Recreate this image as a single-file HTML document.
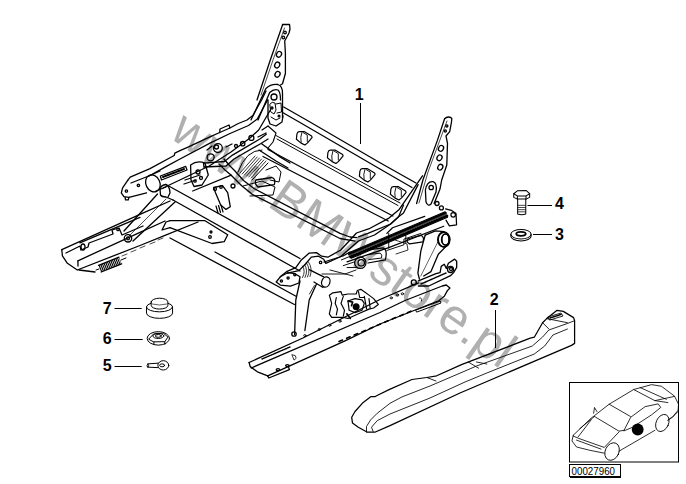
<!DOCTYPE html>
<html><head><meta charset="utf-8">
<style>
html,body{margin:0;padding:0;background:#fff;width:686px;height:484px;overflow:hidden}
svg{display:block}
.lb{font-family:"Liberation Sans",sans-serif;font-weight:bold;font-size:16px;fill:#000}
</style></head><body>
<svg width="686" height="484" viewBox="0 0 686 484">
<rect width="686" height="484" fill="#fff"/>
<defs>
<g id="clip" fill="#fff" stroke="#000" stroke-width="1.2" stroke-linejoin="round">
<path d="M-8.1,0.8 L-7.6,-4.4 Q-7,-6.8 -5.3,-6.8 L0,-6.8 L7.1,-2.5 L7.6,-1.1 L5.2,1.8 L2.8,4.6 L0.4,6.5 L-3.4,4.6 Z"/>
<path d="M-2.7,-5.8 Q-4.5,-1 -3.4,3.8 M-1.5,-6 L2.8,-3.4 L2.8,3" fill="none" stroke-width="0.9"/>
</g>
</defs>

<!-- watermark -->
<text x="0" y="0" transform="translate(168.3,136.7) rotate(35)" font-family="Liberation Sans, sans-serif" font-size="50" fill="#b0b0b0">www.BMWstore.pl</text>

<g fill="none" stroke="#000" stroke-width="1" stroke-linejoin="round" stroke-linecap="butt">
<!-- labels leaders -->
<line x1="360.5" y1="103" x2="360.5" y2="144"/>
<line x1="495.5" y1="310" x2="495.5" y2="348"/>
<line x1="533" y1="234.5" x2="552" y2="234.5"/>
<line x1="527.5" y1="205.5" x2="552" y2="205.5"/>
<line x1="114.5" y1="366.5" x2="141.7" y2="366.5"/>
<line x1="114.5" y1="339.5" x2="142.7" y2="339.5"/>
<line x1="114.5" y1="308.5" x2="141.7" y2="308.5"/>
</g>
<text class="lb" x="354.8" y="99.6">1</text>
<text class="lb" x="489.8" y="305">2</text>
<text class="lb" x="555" y="240">3</text>
<text class="lb" x="555" y="208.8">4</text>
<text class="lb" x="102.8" y="371">5</text>
<text class="lb" x="102.8" y="344">6</text>
<text class="lb" x="102.8" y="314">7</text>


<!-- FRAME -->
<g id="frame" fill="none" stroke="#000" stroke-width="1.3" stroke-linejoin="round" stroke-linecap="round">
<!-- left plate -->
<path d="M282.5,24.5 L289.5,24.3 L290,29 L289,33 L284.7,41 L285.4,53.3 L285.4,73.5 L282.5,83.7 L280.5,85"/>
<path d="M282.5,25 L270.3,60 L257,100"/>
<path d="M284.5,28 L273,60 L261,95" stroke-width="0.7"/>
<circle cx="285" cy="32.5" r="1.3"/><circle cx="283.3" cy="37.5" r="1.3"/>
<ellipse cx="279" cy="54.3" rx="2.4" ry="3" transform="rotate(30 279 54.3)"/><ellipse cx="277.2" cy="65" rx="2.4" ry="3" transform="rotate(30 277.2 65)"/><ellipse cx="277.5" cy="74.3" rx="2.4" ry="3" transform="rotate(30 277.5 74.3)"/>
<path d="M251,120 L265.9,88.5 Q271,83.5 278,84.5 Q282.5,86 282.5,93 L282.5,118"/>
<path d="M258,120 L269.7,92.5 Q274,88.5 278,90 Q280.5,92 280.5,100"/>
<circle cx="274" cy="97" r="3"/>
<!-- left recliner bracket -->
<path d="M268,100 L268,118 L270,124 L276,126 L282,122 L283,116"/>
<path d="M270,104 Q272,101 275,103 L276,110 L274,114 L271,112 Z" stroke-width="1"/>
<path d="M276,104 L281,103 L281.5,112 L277,113 M271,117 L276,120 L280,118" stroke-width="1"/>
<circle cx="272" cy="108" r="1" /><circle cx="279" cy="116" r="0.9"/>
<path d="M268,126 L276,133 L273,142 L268,148" stroke-width="1.1"/>
<path d="M262,130 L268,126 M258,137 L266,133"/>
<!-- left arm -->
<path d="M127.7,180.3 L130.2,177.1 L150,168.6 L174.2,155.5 L174.8,153.1 L180,150.6 L187.4,147.4 L210,136.9 L219.7,132.5 L229.9,128 L238.3,123.5 L247,120 L252.9,115.5 L261.6,100 L266,91"/>
<path d="M131,183 L150,175.5 L165,167.1 L180,159 L210,143.1 L230,133.5 L248.5,125.5 L257.3,119 L267.5,100"/>
<path d="M127.7,180.3 L122.6,187.8 L121.3,192.9 L123.9,196.7 L128.9,197.3 L146.6,192.9"/>
<path d="M125.1,197.3 L125.5,199.8 L128.3,199.8 L128.9,197.3"/>
<circle cx="126.4" cy="191" r="1.2"/><circle cx="138.4" cy="185.3" r="1.2"/>
<path d="M163,188 L209.2,166 L231,152 L250,138 L258.7,130 L270.4,110"/>
<path d="M219.7,132.5 L220,129 L229,125 L229.9,128"/>

<!-- slot -->
<path d="M160.4,176 L185.7,166.4 L187,170 L161.5,180 Z"/>
<path d="M163,177 L184,169" stroke-width="2" stroke-dasharray="0.8 0.8"/>
<!-- arm pivot tube end -->
<ellipse cx="152.9" cy="183.4" rx="7" ry="8.8" transform="rotate(-25 152.9 183.4)"/>
<path d="M149,176 L160,171 M156,191 L166,187"/>
<!-- mechanism cluster -->
<circle cx="217.9" cy="148.1" r="4.4"/><circle cx="216.5" cy="147" r="2"/>
<circle cx="210.6" cy="157.3" r="3.5"/>
<circle cx="242.7" cy="143.7" r="2.2"/><circle cx="251.4" cy="137.9" r="2.5"/><circle cx="236" cy="146" r="1.5"/>
<path d="M207,150 L212,146 M226,147 L232,144"/>
<path d="M203.5,163.1 L224.4,161.5 L232.5,155.1 L259.8,139 L266.3,134.2"/>
<path d="M204,167 L226,166 L234,159 L261,143.5 L268,139"/>
<path d="M203.5,163.1 L204,167"/>
<path d="M190.6,165 Q197,160 205,163 L208.3,175 L202,185 L194,186.5 L191,180 Z"/>
<circle cx="198" cy="172" r="2"/><circle cx="201" cy="178" r="1.5"/><circle cx="195" cy="181" r="1.2"/>
<path d="M185,180 L200,175 M184,184 L196,180"/>
<path d="M240,173 L255,156 M242.2,174 L257.2,157 M244.4,175 L259.4,158 M246.6,176 L261.6,159 M248.8,177 L263.8,160 M251,178 L266,161" stroke-width="0.8"/>
<path d="M238,172 Q246,150 262,150 M252,180 L268,163" stroke-width="1"/>
<path d="M243,186 L262,181 L275,187 L273,195 L250,196" stroke-width="1"/>
<path d="M266,170 L276,166 L281,172 L279,182 L270,180" stroke-width="1"/>
<circle cx="233" cy="186" r="2"/>
<path d="M261.6,143.7 L280,156.9 L290,163"/>
<path d="M259,150 L276,161 L288,168"/>
<path d="M255.8,180 L272,177.5 Q276,179 274.3,184.6 L258,187 Q254,184 255.8,180 Z"/>
<path d="M192.7,191 L231.2,175.2"/>
<path d="M213.7,187.5 L222.5,185.7 L227.7,192.7 L230.3,206.7 L226,209.4 L220.7,205 L215.5,192.7 Z"/>
<path d="M216,206 L218,213 M218.5,205.5 L220.5,212.5 M221,205 L223,212" stroke-width="1.2"/>
<circle cx="215" cy="189" r="1.5"/><circle cx="221" cy="187" r="1.3"/>
<!-- front tube -->
<path d="M166,184.5 L300,258.5"/>
<path d="M173,200 L300,271"/>
<path d="M166,184.5 Q161,185 160,189 L160.5,195 Q162,197 166,197 L173,200"/>
<path d="M166,184.5 Q170,187 170,193 L168,197"/>

<!-- left front strut -->
<path d="M157.5,194 L124,231"/><path d="M175,202 L133,241"/>
<path d="M166,199 L129,236" stroke-width="0.7"/>
<circle cx="128" cy="238.3" r="3.7"/><circle cx="128" cy="238.3" r="1.5"/>
<!-- lower flat bracket -->
<path d="M170,220.7 L205,220.7 L227.7,234.7 L224.2,241.7 L212,243.5 L170,227.7"/>
<path d="M170,220.7 L166,222 L162,230 L170,227.7"/>
<circle cx="211" cy="232" r="1"/><circle cx="210" cy="237" r="1.3"/>
<!-- lower flat bar -->
<path d="M215,252 L296,296.2"/><path d="M170,238 L294.4,304.5"/>
<!-- left rail -->
<path d="M61.8,249.7 L140,214.3 L170,201"/>
<path d="M79.8,242.8 L140,217.4"/>
<path d="M61.8,249.7 L62.4,255.8 L67.4,263.3 L77.3,270 L140,245.5 L165,235.4 L198,222"/>
<path d="M66,253 L80,246 L81,250 L88,247 L89,243 L113,234 L112,230 L119,228 L122,235 L143,226"/>
<path d="M77.9,260.8 L140,232.3 L165,221"/>
<path d="M77.9,260.8 L78,266"/>
<path d="M79,270 L95,272"/>
<ellipse cx="83" cy="247" rx="2" ry="3"/>
<circle cx="118" cy="229.5" r="1.2"/>
<path d="M122,256 L127,254 M131,252 L136,250 M140,248 L145,246 M150,244 L155,242 M158,240 L163,238" stroke-width="0.7"/>
<!-- spring left -->
<path d="M99.9,268.7 L120.3,260.5" stroke-width="7" stroke-dasharray="1.1 0.7" stroke-linecap="butt"/>
<path d="M98.6,265.4 L119,257.2 M101.2,272 L121.6,263.8"/>
<path d="M96,270 L99,269 M121,260 L126,258" stroke-width="1"/>
<!-- rear crossbar panel -->
<path d="M283.7,107 L307.4,120.5 L380,162.8 L416,183"/>
<path d="M283,112.8 L300,122.5 L380,169 L412,187.5"/>
<path d="M276,135.5 L400,203" stroke-width="1"/>
<path d="M277,139 L398,205.5" stroke-width="1"/>
<path d="M268,149.5 L392.9,216"/><path d="M263,156.5 L388.2,221"/>
<use href="#clip" x="304.5" y="138.5"/><use href="#clip" x="335.5" y="157"/>
<use href="#clip" x="367.5" y="175.5"/><use href="#clip" x="398.5" y="193.5"/>
<!-- middle rods -->
<path d="M224,159 L229,165 L235,171 L243.5,180.5 L254,188.5 L340,233.3 L350,237 L357,237.6"/>
<path d="M219,164 L225,170 L231.2,175.2 L241.7,185.7 L252.2,194.3 L340,238.5 L355,241.1"/>
<!-- right plate -->
<path d="M444.6,118.7 Q448,115.5 451.8,118.3 L451.5,122 L449.7,131.7 L446,136 L447.5,143.3 L446.8,165 L441.7,180 L440,189 L434.1,203.5"/>
<path d="M444.6,118.7 L437.4,140.4 L422.9,180 L416.6,203.5"/>
<path d="M447,121 L428,172 L419,203" stroke-width="0.7"/>
<circle cx="446.8" cy="125.9" r="1.1"/><circle cx="445.3" cy="131" r="1.1"/>
<ellipse cx="441" cy="148.4" rx="2.4" ry="3" transform="rotate(30 441 148.4)"/><ellipse cx="439.5" cy="157.8" rx="2.4" ry="3" transform="rotate(30 439.5 157.8)"/><ellipse cx="440.3" cy="167.2" rx="2.4" ry="3" transform="rotate(30 440.3 167.2)"/>
<path d="M425.4,190 Q427,181 433,181.7 Q437.5,183 436,192 L431,204 Q428,207 426,202 Z"/>
<circle cx="431.2" cy="187.5" r="2.2"/>
<circle cx="437" cy="203.5" r="2"/><circle cx="441.4" cy="207.9" r="2"/>
<!-- right arm (side member) -->
<path d="M422.5,175.8 L399.2,209.4 L389,218.1 L370,228.3 L356.5,233 L340.8,250 L327.8,257.2 L321.6,256.2 L316.5,252.6 L309.2,253.1 L301,260.3 L295.8,267.6 L286.5,271.7 L280.3,276.8"/>
<path d="M418.1,184.6 L403.5,213 L398.6,216.7 L390.6,224 L374.5,235 L358.4,241 L340.8,256.5 L325.8,263.4 L323.7,259.3 L318.5,256.2 L311.3,257.2 L305.1,264.5 L298.9,270.6 L287.6,273.2"/>
<path d="M324,262 L343,256 L350,252"/>
<path d="M330,270 L353,276" stroke-width="0.9"/>
<!-- front right link plate -->
<path d="M276.2,282 L280.3,276.8 L287.6,272.7 L294.8,273.7 L300,276.8 L298.9,283 L290.6,286.1 L280.3,285.1 Z"/>
<circle cx="281.4" cy="281" r="1.1"/><circle cx="288.1" cy="277.9" r="1.1"/><circle cx="294.8" cy="274.8" r="1.1"/>
<path d="M302.5,266 Q306,271.5 302.5,277.5 M304.5,264.5 Q308.5,270.5 305,277.5 M306.5,263 Q311,269.5 307.5,277 M308.5,262 Q313,268.5 310,276.5" stroke-width="0.8"/>
<path d="M309.2,269.6 L323.7,276.8 M314,282 L323,287.5"/>
<ellipse cx="325.8" cy="282" rx="4.1" ry="5.2" transform="rotate(20 325.8 282)"/>
<circle cx="320.6" cy="262.4" r="1.2"/>
<path d="M322,274 L345,274 L356,270" stroke-width="0.9"/>
<!-- right leg front -->
<path d="M300,281 L295.8,300 L294.6,334.6"/>
<path d="M316.5,284.1 L309.2,300 L304.9,330.5"/>
<path d="M314.4,285.5 L309.5,294" stroke-width="0.8"/>
<circle cx="294" cy="334" r="2.2"/>
<!-- spring rack -->
<g stroke-width="1.1">
<path d="M348.8,252.7 L445.1,211.7"/>
<path d="M351.2,258.3 L447.5,217.3"/>
<path d="M349.4,254.1 L445.7,213.1" stroke-width="2.8" stroke-dasharray="1.5 0.6"/>
<path d="M350.6,256.9 L446.9,215.9" stroke-width="2.8" stroke-dasharray="1.5 0.6" stroke-dashoffset="1"/>
<path d="M349.6,255.2 L446,214.4" stroke-width="1.2" stroke="#444"/>
</g>

<g transform="translate(330,205) scale(0.1895)" stroke-width="6.5">
<path d="M90,300 L200,262 L310,225 L600,112" />
<path d="M300,150 L330,120 L500,60"/>
<path d="M310,228 L310,150 M400,200 L400,160 M300,240 L390,210 L390,180 L480,150" stroke-width="5"/>
<path d="M410,178 L480,160 Q500,170 490,195 L420,205 Q400,195 410,178 Z"/>
<path d="M610,20 L640,28 L665,45 L668,105 L630,110 L612,80"/>
<circle cx="650" cy="52" r="12"/>
<ellipse cx="600" cy="182" rx="32" ry="40"/>
<ellipse cx="608" cy="182" rx="20" ry="30"/>
<path d="M185,240 L280,226 Q305,235 292,290 L200,306"/>
<path d="M200,262 L265,254 Q278,262 272,280 L205,288" stroke-width="5"/>
<circle cx="160" cy="305" r="30"/><circle cx="165" cy="305" r="17"/>
<path d="M60,290 L120,265 M70,320 L130,300 M90,330 L140,330" stroke-width="5"/>
<path d="M150,168 L200,150 L320,100 L362,62 L388,0" />
</g>
<path d="M395,240 L407,244 L408,250 L396,254" stroke-width="0.8"/>
<!-- right rear leg -->
<path d="M425.2,235.2 L420.8,251.2 L417.9,273.1 L419.4,279"/>
<path d="M447,245.4 L438.3,254.2 L431,271.6 L423.7,276"/>
<path d="M425.2,235.2 L435.4,230.8 L444.1,231.6"/>
<ellipse cx="444.1" cy="239.6" rx="5.8" ry="7.3"/>
<ellipse cx="445.5" cy="239.6" rx="3.5" ry="5.5"/>
<path d="M438.3,241 L420.8,276" stroke-width="0.6"/>
<!-- right rear lower link -->
<path d="M418.4,280.8 L436,273.6 L440.1,272.6 L441.2,266.4 L444.3,264.3 L446.3,268.4 L448.4,263.3 L454.6,259.1 L456.7,261.2 L456.7,267.4 L453.6,272.6 L450.5,275.7 L428.8,286 L418.4,286"/>
<circle cx="413.8" cy="282.4" r="2.5"/><circle cx="450.5" cy="269.5" r="3"/><circle cx="451" cy="269" r="1.5"/>
<path d="M421,284 L446,273" stroke-width="1.4" stroke-dasharray="0.8 0.6"/>
<!-- right rail latch -->
<g transform="translate(320,280) scale(0.1166)" stroke-width="10" fill="#fff">
<path d="M80,130 L110,110 L180,100 L190,130 L240,120 L310,120 L320,90 L350,80 L380,100 L420,130 L460,160 L500,210 L460,240 L420,250 L330,290 L240,330 L200,320 L100,320 L80,290 L100,200 Z"/>
<path d="M140,150 L130,200 L150,250 L140,300 M200,140 L180,200 L210,260 L200,310" fill="none"/>
<path d="M240,180 L300,160 L360,170 L380,200 L360,260 L300,280 L250,260 Z" fill="none"/>
<circle cx="310" cy="230" r="25" fill="#000"/>
<path d="M380,140 L400,250 M420,160 L430,240 M330,100 L340,150 L380,150" fill="none"/>
<path d="M240,180 L280,190 L270,220 M230,290 L260,330" fill="none" stroke-width="14"/>
</g>
<!-- right lower rail -->
<path d="M249.1,362.5 L302.9,338 L380,299.5 L418.4,282.9"/>
<path d="M251.2,368 L380,312.5 L405,300.5 L442.2,286 L446.3,285 L449.9,288 L447.4,290.6 L444.3,296.3 L439.1,300.5 L380,324 L345,340.8 L267.7,375.9"/>
<path d="M249.1,362.5 L250.2,366.6 L257.4,371.8 L267.7,375.9"/>
<path d="M267.7,375.9 L268.8,378 L289.4,369.7 L288.4,366.6"/>
<ellipse cx="278" cy="369.7" rx="1.8" ry="1"/><ellipse cx="287.4" cy="365.6" rx="1.8" ry="1"/>
<path d="M292,355 L294,360 Q297,359 295.5,356 Z" stroke-width="0.8"/>
<path d="M262,359 L290,347" stroke-width="1.4" stroke-dasharray="1 1"/>
<g stroke-width="0.9">
<ellipse cx="304.9" cy="335.6" rx="1.2" ry="1"/><ellipse cx="319.4" cy="329.4" rx="1.2" ry="1"/><ellipse cx="329.7" cy="325.3" rx="1.2" ry="1"/><ellipse cx="340" cy="321.2" rx="1.2" ry="1"/>
<ellipse cx="391.2" cy="297.9" rx="1.2" ry="1"/><ellipse cx="397.3" cy="294.8" rx="1.2" ry="1"/><ellipse cx="402.4" cy="293.8" rx="1.2" ry="1"/>
<path d="M339,341.5 L342.5,340 M346.6,338.3 L350.1,336.8 M354.2,335.1 L357.7,333.6 M361.8,331.9 L365.3,330.4 M369.4,328.7 L372.9,327.2 M377,325.5 L380.5,324 M384.6,322.3 L388.1,320.8 M392.2,319.1 L395.7,317.6 M399.8,315.9 L403.3,314.4 M407.4,312.7 L410.9,311.2" stroke-width="1.6"/>
<path d="M416,310 L440.2,301 L441,303 L417,312 Z" stroke-width="1"/>
<path d="M419.5,298 Q422,297 421.5,301" stroke-width="0.8"/>
</g>
</g>
</g>


<!-- PART 2 rail cover -->
<g fill="none" stroke="#000" stroke-width="1.25" stroke-linejoin="round" stroke-linecap="round">
<path d="M351.7,417.3 L355,411.5 L363.2,402.4 L370.7,396.7 L374.8,396.7 L378.1,395 L389.6,389.4 L412,379.5 L426.8,377.5 L436.7,375.8 L461.5,364.6 L530.2,338.2 L534.3,337.2 L542.6,322.7 L546.7,318.6 L557.1,310.3 L563.3,311.4 L573.6,317.6 L574.6,320.7 L574.6,343.4 L571.5,345.4 L460,393 L390,425.6 L374.8,432.2 L367.4,432.2 L358.3,427.2 L352.5,423.1 Z"/>
<path d="M366.5,432.2 L366.5,426.4 L370.7,419.8 L377.3,413.2 L390,403.3 L402,396.9 L430,386 L465,371 L476.5,366 L532.3,346 L542.6,337 L548.8,330 L567.4,323.5 L574.6,320.7" stroke-width="0.85"/>
<path d="M373.1,431.4 L371.5,427.2 L377.3,420.6 L390,414 L430,398 L465,382 L486.8,373 L534.3,354 L544.7,346 L552.9,335 L567.4,329" stroke-width="0.85"/>
<path d="M546.7,318.6 L567.4,322.7 M542.6,322.7 L548.8,328.9" stroke-width="0.85"/>
<path d="M548,317 L561,313 L563,316 L550,320 Z" stroke-width="0.85"/>
<path d="M550,318 L561,314.5" stroke-width="1.5" stroke-dasharray="0.7 0.7"/>
<path d="M468.3,362 L478.6,368.2 M476.5,362 L486.8,364" stroke-width="0.85"/>
<path d="M426.8,377.5 L436,381" stroke-width="0.85"/>
</g>


<!-- small parts -->
<g transform="translate(140,292) scale(0.062)" fill="none" stroke="#000" stroke-width="16" stroke-linejoin="round" stroke-linecap="round">
<path d="M105,240 L105,340 A210,85 0 0 0 525,340 L525,240 A210,80 0 0 0 450,180 M180,180 A210,80 0 0 0 105,240 A210,80 0 0 0 525,240"/>
<path d="M180,160 L180,215 A135,60 0 0 0 450,215 L450,160 A135,60 0 0 0 180,160 Z"/>
<path d="M200,195 Q315,225 430,195" stroke-width="10"/>
</g>
<g transform="translate(142,326) scale(0.0991)" fill="none" stroke="#000" stroke-width="10" stroke-linejoin="round" stroke-linecap="round">
<ellipse cx="165" cy="125" rx="113" ry="68"/>
<path d="M70,130 L115,82 L215,72 L262,112 L230,158 L120,160 Z"/>
<path d="M120,160 L120,185 M230,158 L230,185"/>
<ellipse cx="165" cy="100" rx="55" ry="26"/>
<ellipse cx="165" cy="100" rx="30" ry="14"/>
</g>
<g transform="translate(142,326) scale(0.0991)" fill="none" stroke="#000" stroke-width="10" stroke-linejoin="round" stroke-linecap="round">
<ellipse cx="215" cy="397" rx="55" ry="47"/>
<ellipse cx="203" cy="397" rx="25" ry="15"/>
<path d="M165,375 L60,382 Q45,395 55,415 L160,420"/>
<path d="M60,382 Q75,398 62,416"/>
</g>
<g transform="translate(500,180) scale(0.1447)" fill="none" stroke="#000" stroke-width="7" stroke-linejoin="round" stroke-linecap="round">
<path d="M95,95 L120,75 L180,72 L205,95 L205,120 L180,132 L120,132 L95,120 Z"/>
<path d="M95,95 L120,110 L180,110 L205,95 M120,110 L120,132 M180,110 L180,132"/>
<path d="M122,132 L122,235 Q150,245 178,235 L178,132"/>
<path d="M125,175 L175,175 M125,190 L175,190 M125,205 L175,205 M125,220 L175,220" stroke-width="5"/>
<ellipse cx="145" cy="375" rx="70" ry="33"/>
<path d="M75,375 L75,388 A70,33 0 0 0 215,388 L215,375"/>
<ellipse cx="145" cy="372" rx="33" ry="14" stroke-width="12"/>
</g>

<!-- inset -->
<g fill="none" stroke="#000" stroke-width="1">
<rect x="569.5" y="382.5" width="109" height="79.5"/>
<rect x="569.5" y="464.5" width="51" height="12"/><line x1="570" y1="477.3" x2="621" y2="477.3" stroke-width="1.3"/>
</g>
<text x="571.6" y="474.8" font-family="Liberation Sans, sans-serif" font-size="10.6" textLength="43.4" lengthAdjust="spacingAndGlyphs" fill="#000">00027960</text>

<g transform="translate(570,383) scale(0.1632)" fill="none" stroke="#000" stroke-width="5" stroke-linejoin="round" stroke-linecap="round">
<path d="M20,320 L130,215 L150,200 L240,130 L390,40 L500,10 L560,20 L640,80 L665,130 L662,175 L625,212 L600,228 M520,290 L300,418 M210,430 L120,412 L40,392 L12,355 L20,320"/>
<path d="M150,205 L300,295 L330,290 M240,130 L370,205 M390,40 L520,108 L640,82 M430,28 L590,100 M520,108 L600,120"/>
<path d="M330,292 L372,210 L460,145 L540,128 L556,150 L500,195 L385,270 Z"/>
<path d="M20,325 L55,340 L210,395 L300,300 M40,350 L190,405 M60,280 L150,205 M50,330 L130,225"/>
<path d="M145,185 L150,150 L165,175"/>
<ellipse cx="258" cy="420" rx="42" ry="56" transform="rotate(25 258 420)"/>
<ellipse cx="566" cy="245" rx="38" ry="55" transform="rotate(25 566 245)"/>
<path d="M600,228 L620,212 M625,212 L660,170"/>
</g>
<circle cx="637.7" cy="429.5" r="5.9" fill="#000"/>

</svg>
</body></html>
